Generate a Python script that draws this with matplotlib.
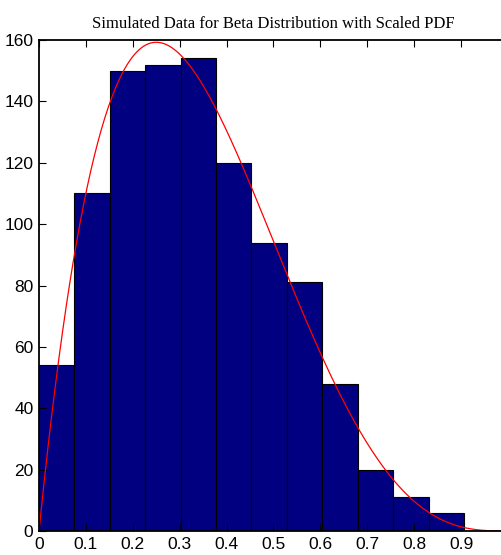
import numpy as np
import matplotlib.pyplot as plt
from math import gamma

# histogram counts (12 bins over 0 .. ~0.906)
counts = [54, 110, 150, 152, 154, 120, 94, 81, 48, 20, 11, 6]
bin_width = 0.0755
n_total = sum(counts)

# beta parameters of the overlaid pdf
a_param, b_param = 2, 4

x_ticks = [0, 0.1, 0.2, 0.3, 0.4, 0.5, 0.6, 0.7, 0.8, 0.9]
x_labels = ["0", "0.1", "0.2", "0.3", "0.4", "0.5", "0.6", "0.7", "0.8", "0.9"]
y_ticks = [0, 20, 40, 60, 80, 100, 120, 140, 160]

edges = np.arange(len(counts)) * bin_width

fig = plt.figure(figsize=(5.02, 5.55), dpi=100)
ax = fig.add_axes([39 / 502, 24 / 555, 469 / 502, 491 / 555])

ax.bar(edges, counts, width=bin_width, align="edge",
       color="#000080", edgecolor="black", linewidth=0.8)

# scaled beta pdf
xs = np.linspace(0, 1, 400)
beta_const = gamma(a_param + b_param) / (gamma(a_param) * gamma(b_param))
pdf = beta_const * xs ** (a_param - 1) * (1 - xs) ** (b_param - 1)
ax.plot(xs, pdf * n_total * bin_width, color="red", linewidth=0.9)

ax.set_xlim(0, 1)
ax.set_ylim(0, 160)
ax.set_xticks(x_ticks)
ax.set_xticklabels(x_labels)
ax.set_yticks(y_ticks)
ax.tick_params(direction="in", top=True, right=False, length=5, width=0.8,
               labelsize=12.5, pad=4)
for lab in ax.get_xticklabels() + ax.get_yticklabels():
    lab.set_family(["Liberation Sans Narrow", "Liberation Sans"])
for sp in ax.spines.values():
    sp.set_linewidth(1.3)
ax.spines["right"].set_visible(False)

ax.set_title("Simulated Data for Beta Distribution with Scaled PDF",
             family="Liberation Serif", fontsize=12, pad=9)

fig.savefig("out.png", dpi=100)
